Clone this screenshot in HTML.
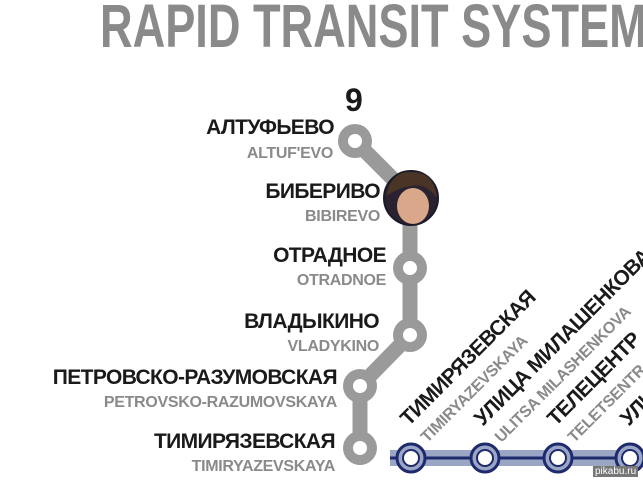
<!DOCTYPE html>
<html><head><meta charset="utf-8"><style>
body{margin:0;width:643px;height:481px;background:#fff;overflow:hidden;position:relative;font-family:"Liberation Sans",sans-serif}
.t{position:absolute;font-weight:bold;white-space:nowrap}
.r{text-align:right}
.ru{font-size:21px;color:#1a1a1a;letter-spacing:-0.6px}
.en{font-size:16px;color:#8a8a8a;letter-spacing:-0.3px}
.rot{position:absolute;transform-origin:0 0;transform:rotate(-45deg);font-weight:bold;white-space:nowrap}
</style></head><body>
<div class="t" style="left:100px;top:-4px;font-size:61px;line-height:1;color:#8a8a8a;transform-origin:0 0;transform:scaleX(0.74)">RAPID TRANSIT SYSTEM</div>
<div class="t" style="left:345px;top:82px;font-size:32px;color:#1a1a1a">9</div>
<svg width="643" height="481" style="position:absolute;left:0;top:0">
<polyline points="355,141 410,196 410,300 410,335 360,386 360,448" fill="none" stroke="#9a9a9a" stroke-width="15" stroke-linejoin="round"/>
<g fill="#9a9a9a"><circle cx="355" cy="141" r="17"/><circle cx="410" cy="268" r="17"/><circle cx="410" cy="335" r="17"/><circle cx="360" cy="386" r="17"/><circle cx="360" cy="448" r="17"/></g>
<g fill="#fff"><circle cx="355" cy="141" r="7"/><circle cx="410" cy="268" r="7"/><circle cx="410" cy="335" r="7"/><circle cx="360" cy="386" r="7"/><circle cx="360" cy="448" r="7"/></g>
<rect x="390" y="450" width="253" height="16" fill="#9aa6c4"/>
<line x1="390" y1="458" x2="643" y2="458" stroke="#1e2a6e" stroke-width="3"/>
<g stroke="#1e2a6e" stroke-width="3"><circle cx="411" cy="458" r="14" fill="#9aa6c4"/><circle cx="485" cy="458" r="14" fill="#9aa6c4"/><circle cx="558" cy="458" r="14" fill="#9aa6c4"/><circle cx="630" cy="458" r="14" fill="#9aa6c4"/></g>
<g fill="#fff" stroke="#1e2a6e" stroke-width="2"><circle cx="411" cy="458" r="8"/><circle cx="485" cy="458" r="8"/><circle cx="558" cy="458" r="8"/><circle cx="630" cy="458" r="8"/></g>
<circle cx="411" cy="198" r="27" fill="#2a2230" stroke="#1a1a2a" stroke-width="2"/>
<ellipse cx="413" cy="206" rx="16" ry="18" fill="#d9a88a"/>
<path d="M386,196 Q392,170 412,172 Q434,172 437,198 Q425,182 410,186 Q398,188 386,196Z" fill="#4a3426"/>
</svg>
<div class="t r ru" style="top:116px;right:309px">АЛТУФЬЕВО</div><div class="t r en" style="top:145px;right:310px">ALTUF'EVO</div>
<div class="t r ru" style="top:180px;right:263px">БИБЕРИВО</div><div class="t r en" style="top:208px;right:263px">BIBIREVO</div>
<div class="t r ru" style="top:244px;right:257px">ОТРАДНОЕ</div><div class="t r en" style="top:272px;right:257px">OTRADNOE</div>
<div class="t r ru" style="top:310px;right:264px">ВЛАДЫКИНО</div><div class="t r en" style="top:338px;right:264px">VLADYKINO</div>
<div class="t r ru" style="top:366px;right:306px">ПЕТРОВСКО-РАЗУМОВСКАЯ</div><div class="t r en" style="top:394px;right:306px">PETROVSKO-RAZUMOVSKAYA</div>
<div class="t r ru" style="top:430px;right:308px">ТИМИРЯЗЕВСКАЯ</div><div class="t r en" style="top:458px;right:308px">TIMIRYAZEVSKAYA</div>
<div class="rot ru" style="left:396px;top:414px">ТИМИРЯЗЕВСКАЯ</div>
<div class="rot en" style="left:418px;top:434px">TIMIRYAZEVSKAYA</div>
<div class="rot ru" style="left:470px;top:414px">УЛИЦА МИЛАШЕНКОВА</div>
<div class="rot en" style="left:492px;top:434px">ULITSA MILASHENKOVA</div>
<div class="rot ru" style="left:543px;top:414px">ТЕЛЕЦЕНТР</div>
<div class="rot en" style="left:565px;top:434px">TELETSENTR</div>
<div class="rot ru" style="left:616px;top:414px">УЛИЦА</div>
<div style="position:absolute;left:593px;top:466px;font-size:10px;color:#fff;background:#777;padding:0 2px;font-family:'Liberation Sans',sans-serif">pikabu.ru</div>
</body></html>
